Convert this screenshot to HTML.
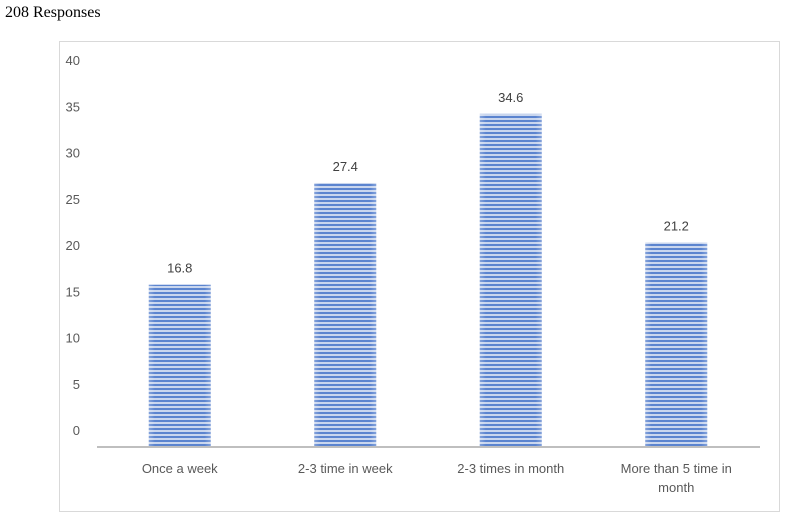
<!DOCTYPE html>
<html><head><meta charset="utf-8"><style>
body{margin:0;background:#fff;width:788px;height:519px;overflow:hidden;font-family:"Liberation Sans",sans-serif}
</style></head><body>
<div style="position:absolute;left:5px;top:4px;font:16px 'Liberation Serif',serif;color:#000">208 Responses</div>
<svg id="chart" width="788" height="519" style="position:absolute;left:0;top:0">
<defs>
<pattern id="stripes" width="8" height="4" patternUnits="userSpaceOnUse">
<rect width="8" height="4" fill="#c9d6ee"/>
<rect y="0" width="8" height="2" fill="#5b84cf"/>
</pattern>
<linearGradient id="shade" x1="0" x2="1">
<stop offset="0" stop-color="#fff" stop-opacity="0.25"/>
<stop offset="0.1" stop-color="#fff" stop-opacity="0"/>
<stop offset="0.9" stop-color="#fff" stop-opacity="0"/>
<stop offset="1" stop-color="#fff" stop-opacity="0.25"/>
</linearGradient>
</defs>
<rect x="59.5" y="41.5" width="720" height="470" fill="none" stroke="#d9d9d9"/>
</svg>
<script>
const categories=["Once a week","2-3 time in week","2-3 times in month","More than 5 time in month"];
const values=[16.8,27.4,34.6,21.2];
const valueLabels=["16.8","27.4","34.6","21.2"];
const yTicks=[0,5,10,15,20,25,30,35,40];
const svg=document.getElementById('chart');
const NS='http://www.w3.org/2000/svg';
const y0=446,yMax=40,plotH=384;
function yScale(v){return y0-v/yMax*plotH;}
function tickLabelY(v){return 435-v/yMax*370;}
const x0=97,band=165.5;
function xCenter(i){return x0+band*(i+0.5);}
function mk(tag,attrs){const e=document.createElementNS(NS,tag);for(const k in attrs)e.setAttribute(k,attrs[k]);svg.appendChild(e);return e;}
yTicks.forEach(v=>{
  const t=mk('text',{x:80,y:tickLabelY(v),'text-anchor':'end','font-size':13,fill:'#595959','font-family':'Liberation Sans, sans-serif'});
  
  
  t.textContent=v;
});
values.forEach((v,i)=>{
  const w=62,cx=xCenter(i),top=yScale(v);
  const r=mk('rect',{x:cx-w/2,y:top,width:w,height:y0-top,fill:'url(#stripes)'});
  
  
  const s=mk('rect',{x:cx-w/2,y:top,width:w,height:y0-top,fill:'url(#shade)'});
  
  
  const t=mk('text',{x:cx,y:top-12,'text-anchor':'middle','font-size':13,fill:'#404040','font-family':'Liberation Sans, sans-serif'});
  
  
  t.textContent=valueLabels[i];
});
const ax=mk('line',{x1:97,x2:760,y1:447,y2:447,stroke:'#bfbfbf','stroke-width':2});


categories.forEach((c,i)=>{
  const cx=xCenter(i);
  const lines=c.length>20?["More than 5 time in","month"]:[c];
  lines.forEach((ln,j)=>{
    const t=mk('text',{x:cx,y:473+j*19,'text-anchor':'middle','font-size':13,fill:'#595959','font-family':'Liberation Sans, sans-serif'});
    
    
    t.textContent=ln;
  });
});
</script>
</body></html>
